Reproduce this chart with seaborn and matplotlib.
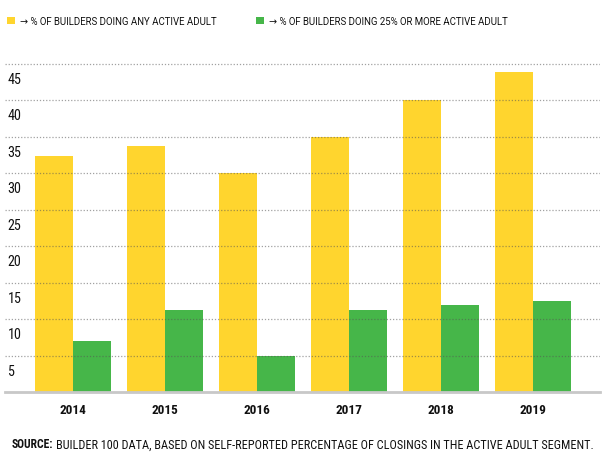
import matplotlib
matplotlib.use("Agg")
import matplotlib.pyplot as plt
import matplotlib.transforms as mtransforms
from matplotlib import font_manager
import seaborn as sns
import pandas as pd

years = ["2014", "2015", "2016", "2017", "2018", "2019"]
any_active = [32.4, 33.7, 30.0, 35.0, 40.0, 43.8]
pct25_active = [7.0, 11.2, 5.0, 11.2, 11.9, 12.5]
series_names = ["→ % OF BUILDERS DOING ANY ACTIVE ADULT",
                "→ % OF BUILDERS DOING 25% OR MORE ACTIVE ADULT"]
y_ticks = [5, 10, 15, 20, 25, 30, 35, 40, 45]
source_bold = "SOURCE:"
source_text = "BUILDER 100 DATA, BASED ON SELF-REPORTED PERCENTAGE OF CLOSINGS IN THE ACTIVE ADULT SEGMENT."

df = pd.DataFrame({
    "year": years * 2,
    "value": any_active + pct25_active,
    "series": [series_names[0]] * len(years) + [series_names[1]] * len(years),
})

sns.set_style("white")

# pick a condensed face if one is installed
entries = font_manager.fontManager.ttflist
def is_cond(f):
    s = str(f.stretch).lower()
    return ("condensed" in s or "narrow" in s or "condensed" in f.name.lower()
            or "narrow" in f.name.lower() or (s.isdigit() and int(s) < 500))
prefs = ["Roboto Condensed", "Liberation Sans Narrow", "Open Sans Condensed",
         "Noto Sans", "Roboto", "Open Sans", "DejaVu Sans", "Inter", "Lato"]
chosen = None
for p in prefs:
    for f in entries:
        if is_cond(f) and (f.name == p):
            chosen = f
            break
    if chosen:
        break
if chosen is None:
    for f in entries:
        if is_cond(f):
            chosen = f
            break
if chosen is not None:
    FAM = [chosen.name, "DejaVu Sans"]
    STRETCH = chosen.stretch
else:
    FAM = ["Liberation Sans", "DejaVu Sans"]
    STRETCH = "normal"
plt.rcParams["font.family"] = FAM
plt.rcParams["font.stretch"] = STRETCH
LEG_FAM = ["Roboto", "DejaVu Sans"]

fig = plt.figure(figsize=(6.12, 4.60), dpi=100)
fig.canvas.draw()
renderer = fig.canvas.get_renderer()

def fit_size(s, target_px, weight="normal", base=10, family=None, stretch=None):
    kw = {}
    if family is not None:
        kw["family"] = family
    if stretch is not None:
        kw["fontstretch"] = stretch
    t = fig.text(0, 0, s, fontsize=base, fontweight=weight, **kw)
    w = t.get_window_extent(renderer=renderer).width
    t.remove()
    return base * target_px / w

ax = fig.add_axes([5 / 612, (460 - 393) / 460, 595 / 612, 343 / 460])

palette = ["#FFD52E", "#46B649"]
sns.barplot(data=df, x="year", y="value", hue="series", palette=palette,
            width=0.83, ax=ax, saturation=1, edgecolor="none", zorder=1)

ax.set_ylim(0, 47)
ax.set_xlim(-0.74, 5.73)
ax.set_xlabel("")
ax.set_ylabel("")
ax.set_yticks([])
for s in ["top", "right", "left"]:
    ax.spines[s].set_visible(False)
ax.spines["bottom"].set_color("#C8C8C8")
ax.spines["bottom"].set_linewidth(2)
ax.tick_params(axis="x", length=0, pad=8)
xfs = fit_size("2014", 27, weight="bold")
for lbl in ax.get_xticklabels():
    lbl.set_fontweight("bold")
    lbl.set_fontsize(xfs)
    lbl.set_color("#111111")

yfs = fit_size("45", 14)
trans = mtransforms.blended_transform_factory(ax.transAxes, ax.transData)
for v in y_ticks:
    ax.axhline(v, color="#555555", alpha=0.55, linestyle=(0, (1, 1.5)),
               linewidth=0.9, zorder=3)
    ax.text(0.004, v, str(v),
            transform=trans + mtransforms.ScaledTranslation(0, -6 / 72, fig.dpi_scale_trans),
            va="top", ha="left", fontsize=yfs, color="#111111")

lfs = fit_size(series_names[0], 198, family=LEG_FAM, stretch="normal")
px_per_unit = lfs * 100 / 72
colspace = 39 / px_per_unit
hl = 8 / px_per_unit
htp = 5 / px_per_unit
leg = ax.legend(loc="center left", bbox_to_anchor=(7 / 612, 1 - 22 / 460),
                bbox_transform=fig.transFigure, ncol=2,
                frameon=False, handlelength=hl, handleheight=hl,
                handletextpad=htp, columnspacing=colspace, borderaxespad=0, borderpad=0,
                prop={"family": LEG_FAM, "size": lfs, "stretch": "normal"})
for t in leg.get_texts():
    t.set_color("#111111")

sfs_b = fit_size(source_bold, 42, weight="bold")
sfs = fit_size(source_text, 538)
t1 = fig.text(12 / 612, 1 - 445 / 460, source_bold, fontsize=sfs_b, fontweight="bold",
              va="center", ha="left", color="#111111")
bb = t1.get_window_extent(renderer=renderer)
x2 = (bb.x1 + 3) / fig.bbox.width
fig.text(x2, 1 - 445 / 460, source_text, fontsize=sfs, va="center", ha="left", color="#111111")

fig.savefig("out.png", dpi=100)
